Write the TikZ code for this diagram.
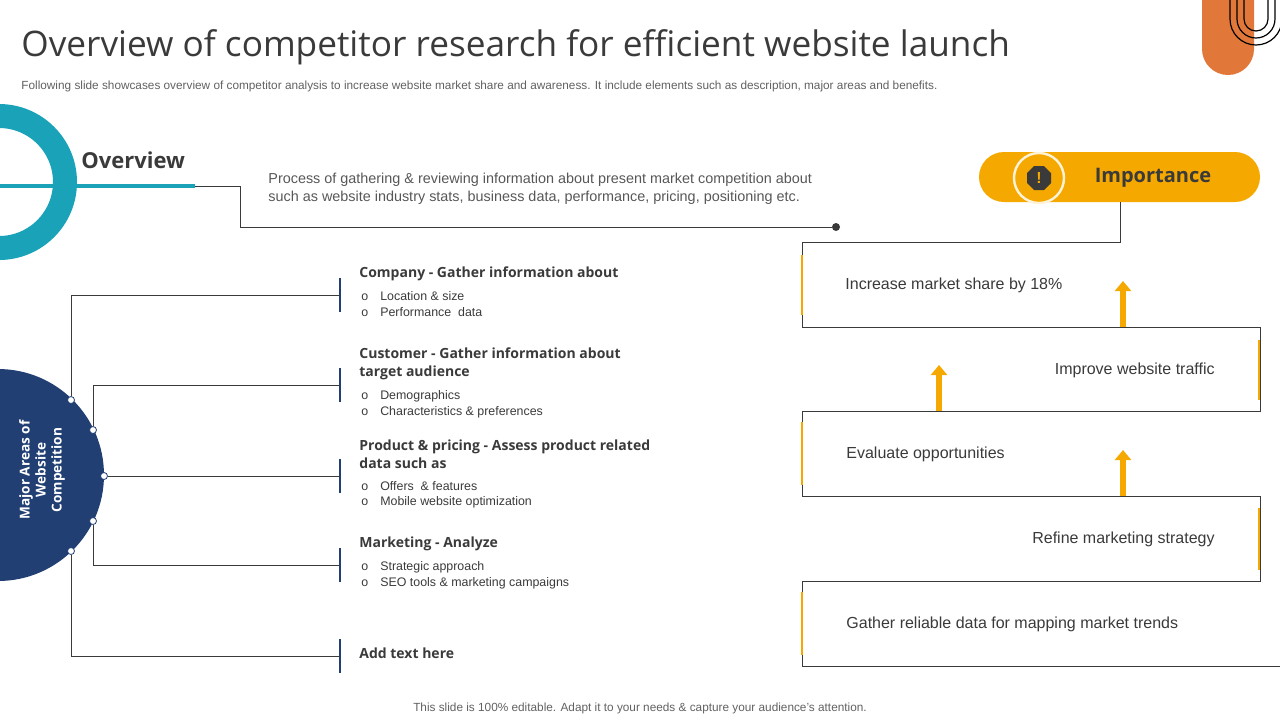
\documentclass[tikz,border=0pt]{standalone}
\usepackage{fontspec}
\setmainfont{Liberation Sans}
\newfontfamily\titlefont{Open Sans}
\usetikzlibrary{positioning,arrows.meta,shapes.geometric}
\definecolor{teal}{HTML}{1AA3B8}
\definecolor{navy}{HTML}{213F73}
\definecolor{gold}{HTML}{F5A800}
\definecolor{rust}{HTML}{E2773A}
\definecolor{ink}{HTML}{3A3A3A}
\tikzset{
  heading/.style={anchor=west, font=\titlefont\fontsize{7}{9}\selectfont\bfseries, text=ink, align=left, inner sep=0pt},
  bullet/.style={anchor=west, font=\fontsize{6.2}{7}\selectfont, text=ink, inner sep=0pt},
  item/.style={anchor=west, font=\fontsize{8}{9}\selectfont, text=ink, inner sep=0pt},
  itemR/.style={item, anchor=east},
  accent/.style={draw=gold, line width=1.4pt},
  tick/.style={draw=navy, line width=1.2pt},
  link/.style={draw=ink, line width=0.5pt},
  hub/.style={circle, fill=white, draw=navy, line width=0.4pt, inner sep=0pt, minimum size=3.5pt},
  rise/.style={draw=gold, line width=3pt, -{Triangle[width=8pt,length=5pt]}}
}
\begin{document}
\begin{tikzpicture}[x=0.5pt, y=-0.5pt]
      \useasboundingbox (0,0) rectangle (1280,720);
      \begin{scope}
      \clip (0,0) rectangle (1280,720);
      % corner decoration
      \fill[rust] (1202,0) -- (1202,49) arc[start angle=180, end angle=0, radius=26] -- (1254,0) -- cycle;
      \foreach \r in {26,19,12}
        \draw[black, line width=0.6pt] (1256-\r,0) -- (1256-\r,19) arc[start angle=180, end angle=0, radius=\r] -- (1256+\r,0);
      % overview ring
      \draw[teal, line width=12pt] (-1,182) circle[radius=66];
      \draw[teal, line width=2pt] (0,186) -- (195,186);
      % major areas disc
      \fill[navy] (-2,475) circle[radius=106];
      \end{scope}

      \node[anchor=west, inner sep=0pt, font=\titlefont\fontsize{17.6}{20}\selectfont, text=ink] (title) at (21,47) {Overview of competitor research for efficient website launch};
      \node[anchor=west, inner sep=0pt, font=\fontsize{5.9}{7}\selectfont, text=ink!80] (sub) at (21,86) {Following slide showcases overview of competitor analysis to increase website market share and awareness. It include elements such as description, major areas and benefits.};

      % overview
      \node[anchor=west, inner sep=0pt, font=\titlefont\fontsize{11}{13}\selectfont\bfseries, text=ink] (ovr) at (81,160) {Overview};
      \coordinate (ovrEnd) at (195,186);
      \node[anchor=north west, inner sep=0pt, align=left, font=\fontsize{7.2}{9}\selectfont, text=ink!85] (desc) at (268,173) {Process of gathering \& reviewing information about present market competition about\\such as website industry stats, business data, performance, pricing, positioning etc.};
      \node[circle, fill=ink, inner sep=0pt, minimum size=4pt] (dot) at (836,227) {};
      \draw[link] (ovrEnd) -| (240,227) -- (dot);

      % importance pill
      \node[fill=gold, rounded corners=12.5pt, minimum width=140.5pt, minimum height=25pt, inner sep=0pt] (imp) at (1119.5,177) {};
      \node[circle, fill=gold, draw=white!85!gold, line width=1.2pt, minimum size=25pt, inner sep=0pt] (icon) at (1039,178) {};
      \node[regular polygon, regular polygon sides=8, fill=ink, minimum size=13pt, inner sep=0pt, font=\fontsize{8}{8}\selectfont\bfseries, text=gold] (warn) at (icon) {!};
      \node[font=\titlefont\fontsize{10}{12}\selectfont\bfseries, text=ink, inner sep=0pt] (impT) at (1153,178) {Importance};
      \coordinate (impFoot) at (1120,202);

      % benefit steps
      \draw[link] (impFoot) -- (1120,242) -- (802,242) -- (802,327) -- (1260,327) -- (1260,411) -- (802,411) -- (802,496) -- (1260,496) -- (1260,581) -- (802,581) -- (802,666) -- (1280,666);
      \draw[accent] (802,255) -- (802,315);
      \draw[accent] (1259,340) -- (1259,400);
      \draw[accent] (802,422) -- (802,485);
      \draw[accent] (1259,508) -- (1259,570);
      \draw[accent] (802,592) -- (802,655);
      \node[item] (b1) at (845,285) {Increase market share by 18\%};
      \node[itemR] (b2) at (1215,370) {Improve website traffic};
      \node[item] (b3) at (846,454) {Evaluate opportunities};
      \node[itemR] (b4) at (1215,539) {Refine marketing strategy};
      \node[item] (b5) at (846,624) {Gather reliable data for mapping market trends};
      \draw[rise] (1123,327) -- (1123,281);
      \draw[rise] (939,411) -- (939,365);
      \draw[rise] (1123,496) -- (1123,450);

      % major areas
      \node[rotate=90, align=center, text=white, font=\titlefont\fontsize{6.8}{8}\selectfont\bfseries] (areas) at (42,470) {Major Areas of\\Website\\Competition};
      \node[hub] (h1) at (71,400) {};
      \node[hub] (h2) at (93,430) {};
      \node[hub] (h3) at (104,476) {};
      \node[hub] (h4) at (93,521) {};
      \node[hub] (h5) at (71,551) {};
      \foreach \y [count=\i] in {295,385,476,565,656} {
        \coordinate (t\i) at (340,\y);
        \draw[tick] (340,\y-17) -- (340,\y+17);
      }
      \draw[link] (h1) |- (t1);
      \draw[link] (h2) |- (t2);
      \draw[link] (h3) -- (t3);
      \draw[link] (h4) |- (t4);
      \draw[link] (h5) |- (t5);

      \node[heading] (c1) at (359,274) {Company - Gather information about};
      \node[bullet] at (361,296) {o\hspace{6pt}Location \& size};
      \node[bullet] at (361,312) {o\hspace{6pt}Performance\ \ data};
      \node[heading] (c2) at (359,364) {Customer - Gather information about\\target audience};
      \node[bullet] at (361,396) {o\hspace{6pt}Demographics};
      \node[bullet] at (361,412) {o\hspace{6pt}Characteristics \& preferences};
      \node[heading] (c3) at (359,454) {Product \& pricing - Assess product related\\data such as};
      \node[bullet] at (361,486) {o\hspace{6pt}Offers \ \& features};
      \node[bullet] at (361,502) {o\hspace{6pt}Mobile website optimization};
      \node[heading] (c4) at (359,544) {Marketing - Analyze};
      \node[bullet] at (361,567) {o\hspace{6pt}Strategic approach};
      \node[bullet] at (361,583) {o\hspace{6pt}SEO tools \& marketing campaigns};
      \node[heading] (c5) at (359,653) {Add text here};

      \node[inner sep=0pt, font=\fontsize{5.9}{7}\selectfont, text=ink!80] (foot) at (640,708) {This slide is 100\% editable. Adapt it to your needs \& capture your audience’s attention.};
\end{tikzpicture}
\end{document}
